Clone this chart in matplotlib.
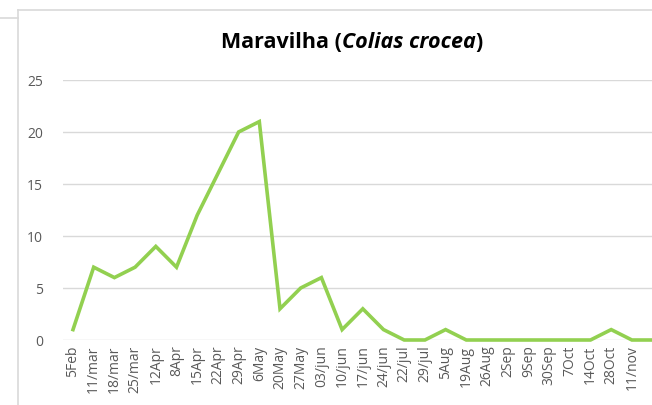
import numpy as np
import matplotlib.pyplot as plt
from matplotlib.lines import Line2D

# data
dates = ["5Feb", "11/mar", "18/mar", "25/mar", "12Apr", "8Apr", "15Apr", "22Apr",
         "29Apr", "6May", "20May", "27May", "03/jun", "10/jun", "17/jun", "24/jun",
         "22/jul", "29/jul", "5Aug", "19Aug", "26Aug", "2Sep", "9Sep", "30Sep",
         "7Oct", "14Oct", "28Oct", "11/nov", ""]
counts = [1, 7, 6, 7, 9, 7, 12, 16, 20, 21, 3, 5, 6, 1, 3, 1,
          0, 0, 1, 0, 0, 0, 0, 0, 0, 0, 1, 0, 0]
yticks = [0, 5, 10, 15, 20, 25]

W, H = 652, 405
fig = plt.figure(figsize=(W / 100, H / 100), dpi=100)

# chart frame (the chart is cropped on the right and bottom)
fig.add_artist(Line2D([18 / W, 18 / W], [0, 1 - 10 / H], color="#d9d9d9", lw=1.2))
fig.add_artist(Line2D([18 / W, 1], [1 - 10 / H, 1 - 10 / H], color="#d9d9d9", lw=1.2))
fig.add_artist(Line2D([0, 18 / W], [1 - 18 / H, 1 - 18 / H], color="#d9d9d9", lw=1.2))

step = 20.7
left = 73 - step / 2
n = len(dates)
ax = fig.add_axes([left / W, 65 / H, n * step / W, 260 / H])

x = np.arange(n)
ax.plot(x, counts, color="#92d050", lw=2.6, solid_joinstyle="miter", clip_on=False, zorder=3)

ax.set_xlim(-0.5, n - 0.5)
ax.set_ylim(0, 25)
ax.set_yticks(yticks)
ax.yaxis.grid(True, color="#d9d9d9", lw=1)
ax.set_axisbelow(True)
for s in ax.spines.values():
    s.set_visible(False)

ax.set_xticks(x)
ax.set_xticklabels(dates, rotation=90, fontsize=10, color="#595959", family="Open Sans")
ax.tick_params(axis="x", length=0, pad=4)
ax.tick_params(axis="y", length=0, pad=14, labelsize=10, labelcolor="#595959")
for lab in ax.get_yticklabels():
    lab.set_family("Open Sans")

# title with italic species name
fig.canvas.draw()
r = fig.canvas.get_renderer()
ty = 1 - 43 / H
parts = [("Maravilha (", "normal"), ("Colias crocea", "italic"), (")", "normal")]
texts = []
for s, st in parts:
    t = fig.text(0, ty, s, fontsize=15.5, weight="bold", style=st,
                 family="Open Sans", va="center")
    texts.append(t)
widths = [t.get_window_extent(r).width for t in texts]
xpos = 352 - sum(widths) / 2
for t, w in zip(texts, widths):
    t.set_x(xpos / W)
    xpos += w

fig.savefig("out.png", dpi=100)
